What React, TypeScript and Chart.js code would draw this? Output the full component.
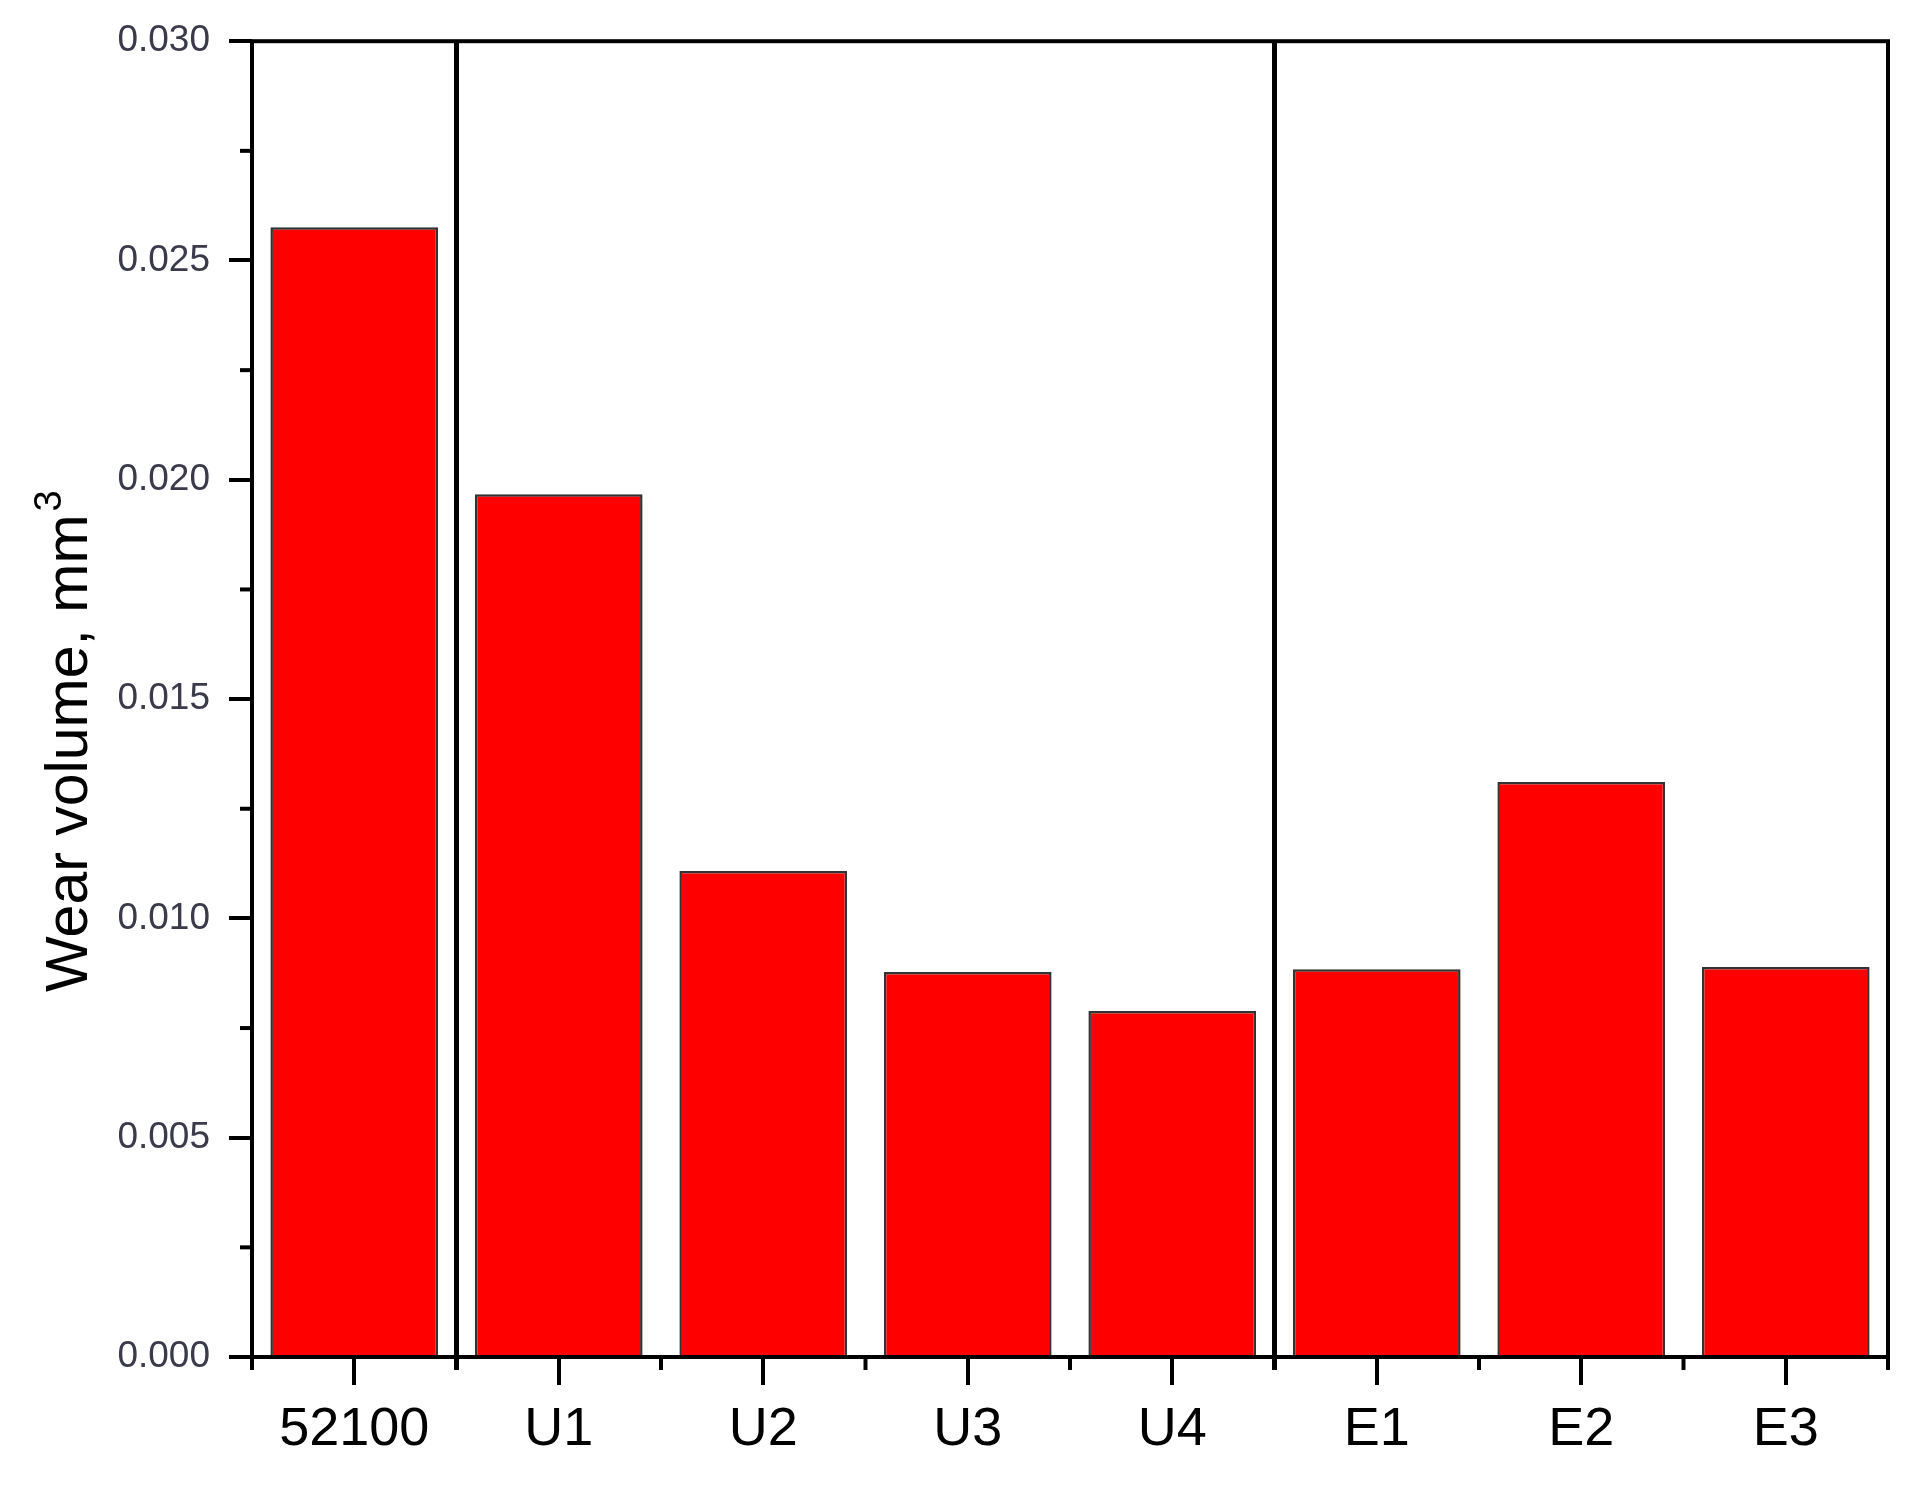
import React, { useEffect, useRef } from "react";
import { Chart, registerables } from "chart.js";

Chart.register(...registerables);

const categories = ["52100", "U1", "U2", "U3", "U4", "E1", "E2", "E3"];
const wearVolume = [0.02576, 0.01967, 0.01108, 0.00878, 0.00789, 0.00884, 0.01311, 0.00889];
const yTicks = [0, 0.005, 0.01, 0.015, 0.02, 0.025, 0.03];
const groupBreaks = [1, 5];
const yTitle = "Wear volume, mm";
const yTitleSup = "3";

const FONT = '"Liberation Sans", Arial, sans-serif';

const decorPlugin = {
  id: "decor",
  afterDatasetsDraw(chart: any) {
    const { ctx, chartArea, scales } = chart;
    const x = scales.x;
    const y = scales.y;
    const { left, right, top, bottom } = chartArea;
    ctx.save();
    ctx.strokeStyle = "#000";
    ctx.lineCap = "butt";
    // minor y ticks
    ctx.lineWidth = 4;
    for (let i = 0; i < yTicks.length - 1; i++) {
      const v = (yTicks[i] + yTicks[i + 1]) / 2;
      const py = y.getPixelForValue(v);
      ctx.beginPath();
      ctx.moveTo(left - 12, py);
      ctx.lineTo(left, py);
      ctx.stroke();
    }
    // minor x ticks at category boundaries
    const step = x.getPixelForValue(1) - x.getPixelForValue(0);
    for (let i = 0; i <= categories.length; i++) {
      const px = x.getPixelForValue(0) - step / 2 + i * step;
      ctx.beginPath();
      ctx.moveTo(px, bottom);
      ctx.lineTo(px, bottom + 13);
      ctx.stroke();
    }
    // group separators
    ctx.lineWidth = 5;
    for (const b of groupBreaks) {
      const px = x.getPixelForValue(b) - step / 2;
      ctx.beginPath();
      ctx.moveTo(px, top);
      ctx.lineTo(px, bottom + 13);
      ctx.stroke();
    }
    // frame
    ctx.lineWidth = 4;
    ctx.strokeRect(left, top, right - left, bottom - top);
    // y title
    ctx.fillStyle = "#000";
    ctx.translate(87, 992);
    ctx.rotate(-Math.PI / 2);
    ctx.font = `59px ${FONT}`;
    ctx.textAlign = "left";
    ctx.textBaseline = "alphabetic";
    ctx.fillText(yTitle, 0, 0);
    const w = ctx.measureText(yTitle).width;
    ctx.font = `38px ${FONT}`;
    ctx.fillText(yTitleSup, w + 3, -26);
    ctx.restore();
  },
};

export default function App() {
  const ref = useRef<HTMLCanvasElement>(null);
  useEffect(() => {
    if (!ref.current) return;
    const chart = new Chart(ref.current, {
      type: "bar",
      data: {
        labels: categories,
        datasets: [
          {
            data: wearVolume,
            backgroundColor: "#ff0000",
            borderColor: "#333333",
            borderWidth: 2.5,
            barPercentage: 0.82,
            categoryPercentage: 1,
          },
        ],
      },
      options: {
        responsive: false,
        animation: false,
        layout: { padding: { top: 39, right: 41, left: 0, bottom: 0 } },
        plugins: { legend: { display: false }, tooltip: { enabled: false } },
        scales: {
          x: {
            afterFit: (s: any) => {
              s.height = 129;
            },
            border: { display: false },
            grid: {
              offset: false,
              drawOnChartArea: false,
              drawTicks: true,
              tickLength: 28,
              tickWidth: 4,
              lineWidth: 4,
              color: "#000",
            },
            ticks: {
              color: "#000",
              font: { family: FONT, size: 54 },
              padding: 13,
              maxRotation: 0,
            },
          },
          y: {
            min: 0,
            max: 0.03,
            afterFit: (s: any) => {
              s.width = 252;
            },
            border: { display: false },
            grid: {
              drawOnChartArea: false,
              drawTicks: true,
              tickLength: 23,
              tickWidth: 4,
              lineWidth: 4,
              color: "#000",
            },
            ticks: {
              stepSize: 0.005,
              color: "#3a3a4a",
              font: { family: FONT, size: 37 },
              padding: 19,
              callback: (v: any) => Number(v).toFixed(3),
            },
          },
        },
      },
      plugins: [decorPlugin],
    });
    return () => chart.destroy();
  }, []);
  return (
    <div style={{ position: "absolute", left: 0, top: 0, width: 1929, height: 1486, background: "#fff" }}>
      <canvas ref={ref} width={1929} height={1486} style={{ display: "block" }} />
    </div>
  );
}
